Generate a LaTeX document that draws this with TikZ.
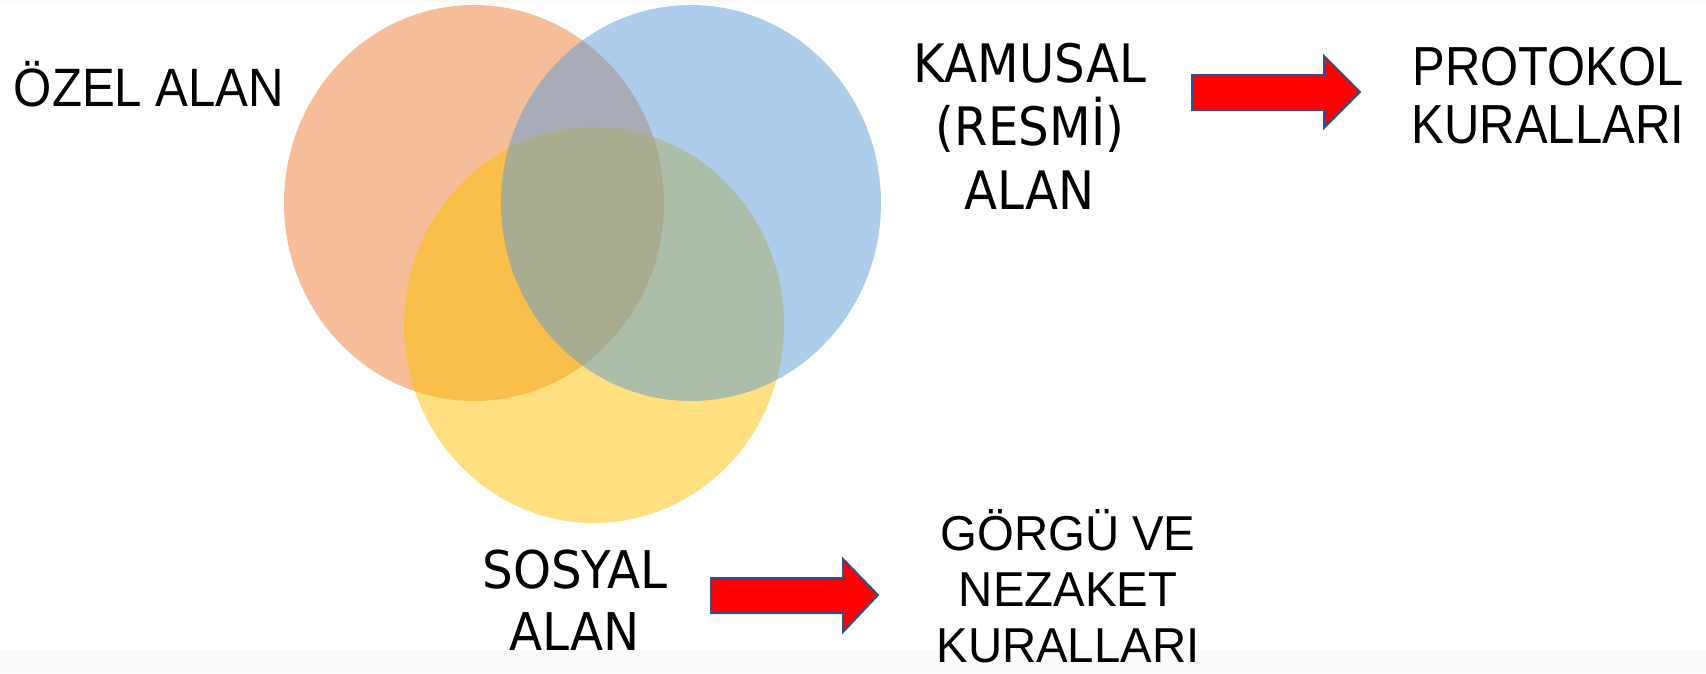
\documentclass[tikz,border=0pt]{standalone}
\usepackage{fontspec}
\newfontfamily\arialO[FakeStretch=0.91]{Liberation Sans}
\newfontfamily\arialP[FakeStretch=0.89]{Liberation Sans}
\newfontfamily\arialG[FakeStretch=0.966]{Liberation Sans}
\newfontfamily\tahK[FakeStretch=0.91]{DejaVu Sans}
\newfontfamily\tahS[FakeStretch=0.93]{DejaVu Sans}
\definecolor{orangeO}{HTML}{ED7D31}
\definecolor{blueO}{HTML}{5B9BD5}
\definecolor{yellowO}{HTML}{FFC000}
\definecolor{arrowline}{HTML}{2F528F}
\definecolor{stripgray}{HTML}{FAFAFA}
\tikzset{
  venn/.style={fill opacity=0.5, draw=none},
  lineA/.style={anchor=base, inner sep=0pt, font=\arialO\fontsize{54}{60}\selectfont},
  lineP/.style={anchor=base, inner sep=0pt, font=\arialP\fontsize{55}{58}\selectfont},
  lineG/.style={anchor=base, inner sep=0pt, font=\arialG\fontsize{49}{57}\selectfont},
  lineK/.style={anchor=base, inner sep=0pt, font=\tahK\fontsize{53}{63}\selectfont},
  lineS/.style={anchor=base, inner sep=0pt, font=\tahS\fontsize{52}{63}\selectfont},
  blockarrow/.style={fill=red, draw=arrowline, line width=2pt, line join=miter}
}
\begin{document}
\begin{tikzpicture}[x=1pt,y=-1pt]
\useasboundingbox (0,0) rectangle (1706,673);
\fill[stripgray] (0,650) rectangle (1706,673);
\fill[stripgray] (0,0) rectangle (1706,4);
% Venn ellipses
\fill[venn, orangeO] (474,203) ellipse [x radius=190pt, y radius=198pt];
\fill[venn, yellowO] (594,325) ellipse [x radius=190pt, y radius=198pt];
\fill[venn, blueO] (691,203) ellipse [x radius=190pt, y radius=198pt];
% labels
\node[lineA] (ozel) at (149,106) {ÖZEL ALAN};
\node[lineK] (kam1) at (1030,82) {KAMUSAL};
\node[lineK] (kam2) at (1030,145) {(RESMİ)};
\node[lineK] (kam3) at (1030,209) {ALAN};
\node[lineP] (pro1) at (1548,85) {PROTOKOL};
\node[lineP] (pro2) at (1548,143) {KURALLARI};
\node[lineS] (sos1) at (575,588) {SOSYAL};
\node[lineS] (sos2) at (575,650) {ALAN};
\node[lineG] (gor1) at (1068,550) {GÖRGÜ VE};
\node[lineG] (gor2) at (1068,606) {NEZAKET};
\node[lineG] (gor3) at (1068,662) {KURALLARI};
% block arrows
\draw[blockarrow] (1192,75) -- (1324,75) -- (1324,56) -- (1360,92) -- (1324,128) -- (1324,110) -- (1192,110) -- cycle;
\draw[blockarrow] (711,578) -- (843,578) -- (843,559) -- (878,595) -- (843,632) -- (843,613) -- (711,613) -- cycle;
\end{tikzpicture}
\end{document}
